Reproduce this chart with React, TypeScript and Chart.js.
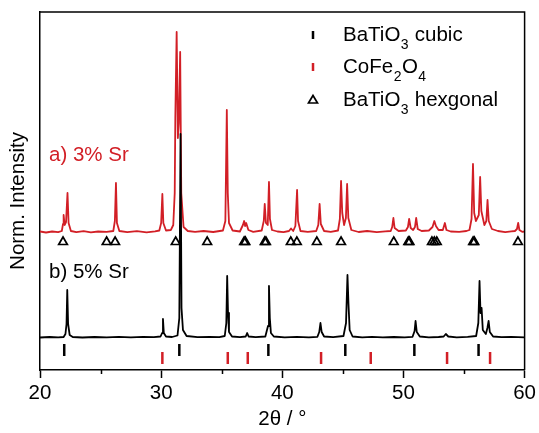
import React, { useEffect, useRef } from "react";
import { Chart, registerables } from "chart.js";

Chart.register(...registerables);

// ---- data -------------------------------------------------------------

// 2θ range and axis ticks
const xMin = 20;
const xMax = 60;
const majorTicks = [20, 30, 40, 50, 60];
const minorTicks = [25, 35, 45, 55];

// Diffractogram of the 3% Sr sample: [2θ, intensity above its own baseline]
const sr3Pattern: [number, number][] = [
  [20, 1.5], [20.5, 0.5], [21, 1.5], [21.5, 0.8], [21.8, 2], [21.9, 9], [21.95, 18], [22.03, 8], [22.15, 11], [22.27, 40], [22.36, 10], [22.55, 2],
  [23, 0.8], [23.6, 1.8], [24.2, 0.6], [24.8, 1.5], [25.5, 1.2], [26.05, 2], [26.18, 12], [26.27, 50], [26.35, 10], [26.55, 2],
  [27.2, 0.8], [28, 1.8], [28.8, 0.7], [29.5, 1.6], [29.85, 2.5], [30.0, 10], [30.1, 39], [30.18, 10], [30.4, 2.5],
  [30.8, 3], [31.0, 8], [31.12, 40], [31.17, 115], [31.28, 201], [31.38, 95], [31.46, 110], [31.57, 181], [31.66, 40], [31.85, 6], [32.2, 2],
  [32.8, 1.2], [33.5, 2], [34.3, 1], [35.1, 2.5], [35.3, 12], [35.42, 123], [35.5, 40], [35.6, 10], [35.9, 2.5],
  [36.5, 1.5], [36.75, 8], [36.85, 12], [36.93, 7], [37.02, 10], [37.2, 3], [37.6, 1.2],
  [38.3, 2.5], [38.47, 12], [38.55, 29], [38.65, 10], [38.8, 8], [38.9, 51], [38.98, 14], [39.15, 3], [39.6, 1.5],
  [40.1, 0.8], [40.55, 2], [40.72, 4.5], [40.9, 2], [41.08, 7], [41.22, 43], [41.3, 12], [41.5, 2],
  [42.1, 1.2], [42.8, 2], [42.97, 8], [43.08, 29], [43.18, 9], [43.45, 2],
  [44.0, 1.2], [44.6, 2.5], [44.75, 14], [44.85, 52], [44.95, 20], [45.1, 8], [45.25, 15], [45.35, 49], [45.45, 15], [45.7, 3],
  [46.3, 1], [47, 2], [47.8, 0.8], [48.5, 1.6], [48.95, 2], [49.07, 6], [49.17, 15], [49.27, 5], [49.6, 2],
  [50.2, 2.5], [50.37, 6], [50.47, 14], [50.6, 5], [50.8, 3], [50.95, 6], [51.05, 15], [51.18, 4], [51.5, 2],
  [52.1, 2.5], [52.4, 6], [52.55, 12], [52.68, 7], [52.9, 3], [53.25, 3], [53.42, 10], [53.55, 3], [53.9, 1.5],
  [54.6, 1.2], [55.2, 2], [55.45, 3], [55.62, 14], [55.74, 69], [55.84, 20], [55.98, 12], [56.22, 18], [56.33, 56], [56.43, 22], [56.68, 8], [56.84, 12], [56.94, 33], [57.04, 12], [57.3, 4], [57.8, 2],
  [58.4, 0.8], [58.9, 1.6], [59.2, 2], [59.37, 4], [59.47, 10], [59.57, 3], [59.8, 1.2], [60, 1.5],
];

// Diffractogram of the 5% Sr sample
const sr5Pattern: [number, number][] = [
  [20, 0.5], [20.8, 1], [21.5, 0.6], [21.95, 1], [22.1, 4], [22.19, 14], [22.25, 48], [22.32, 14], [22.45, 3], [22.7, 1],
  [23.5, 0.5], [24.5, 1], [25.5, 0.6], [26.5, 1.1], [27.5, 0.7], [28.5, 1.2], [29.4, 0.8], [29.95, 1.5], [30.08, 5], [30.15, 19], [30.22, 5], [30.4, 1.5],
  [30.9, 1], [31.35, 2.5], [31.5, 20], [31.6, 204], [31.68, 30], [31.8, 8], [32.1, 2],
  [33, 0.8], [34, 1.2], [34.8, 0.8], [35.25, 2], [35.38, 15], [35.45, 62], [35.52, 25], [35.6, 6], [35.85, 1.5],
  [36.5, 0.8], [36.98, 1.5], [37.1, 5], [37.22, 1.5], [37.8, 0.8],
  [38.6, 1.5], [38.82, 12], [38.9, 52], [38.97, 20], [39.06, 5], [39.3, 1.5],
  [40.2, 0.6], [41.2, 1.1], [42.2, 0.7], [42.9, 1.2], [43.05, 6], [43.15, 15], [43.25, 6], [43.45, 1.5],
  [44.2, 0.8], [45.05, 2], [45.26, 15], [45.38, 63], [45.46, 35], [45.56, 8], [45.8, 1.5],
  [46.6, 0.7], [47.4, 1.1], [48.3, 0.6], [49.2, 1], [50.1, 0.7], [50.75, 1.2], [50.92, 7], [51.0, 17], [51.1, 6], [51.35, 1.5],
  [52.1, 0.7], [52.9, 1], [53.32, 1.5], [53.5, 4], [53.7, 1.5], [54.4, 0.7], [55.3, 1.1],
  [56.0, 2], [56.18, 15], [56.28, 57], [56.36, 25], [56.45, 30], [56.55, 8], [56.8, 4], [56.93, 10], [57.03, 17], [57.13, 6], [57.4, 1.5],
  [58.1, 0.8], [58.9, 1.1], [60, 0.6],
];

// Reference reflection positions (2θ)
const cubicRefs = [22.0, 31.5, 38.85, 45.2, 50.9, 56.2];
const spinelRefs = [30.1, 35.5, 37.15, 43.2, 47.3, 53.6, 57.15];
const hexRefs = [
  21.9, 25.5, 26.2, 31.2, 33.8, 36.85, 36.95, 38.55, 38.65, 40.7, 41.2, 42.85,
  44.85, 49.2, 50.4, 50.5, 52.35, 52.55, 52.75, 55.75, 55.85, 59.45,
];

// Text
const yTitle = "Norm. Intensity";
const xTitle = "2θ / °";
const sampleLabels = ["a) 3% Sr", "b) 5% Sr"];
type Part = { t: string; sub?: boolean };
const legendTexts: Part[][] = [
  [{ t: "BaTiO" }, { t: "3", sub: true }, { t: " cubic" }],
  [{ t: "CoFe" }, { t: "2", sub: true }, { t: "O" }, { t: "4", sub: true }],
  [{ t: "BaTiO" }, { t: "3", sub: true }, { t: " hexgonal" }],
];

// ---- layout / style ----------------------------------------------------

const RED = "#d21f26";
const FONT = '"Liberation Sans", Arial, Helvetica, sans-serif';
const FS = 20.5;
const yMax = 358;
const sr3Offset = 137;
const sr5Offset = 32;
const hexRow = 128;
const cubicRow = 20;
const spinelRow = 12;

const toPoints = (p: [number, number][], off: number) => p.map(([x, y]) => ({ x, y: y + off }));
const rowPoints = (refs: number[], y: number) => refs.map((x) => ({ x, y }));

function drawRich(ctx: CanvasRenderingContext2D, parts: Part[], x: number, y: number) {
  let cx = x;
  for (const p of parts) {
    if (p.sub) {
      ctx.font = `14px ${FONT}`;
      ctx.fillText(p.t, cx + 0.5, y + 10);
      cx += ctx.measureText(p.t).width + 1;
    } else {
      ctx.font = `${FS}px ${FONT}`;
      ctx.fillText(p.t, cx, y);
      cx += ctx.measureText(p.t).width;
    }
  }
}

const overlayPlugin = {
  id: "xrdOverlay",
  afterDraw(chart: any) {
    const { ctx, chartArea: a, scales } = chart;
    ctx.save();
    // top and right frame lines
    ctx.strokeStyle = "#000";
    ctx.lineWidth = 1.5;
    ctx.beginPath();
    ctx.moveTo(a.left, a.top);
    ctx.lineTo(a.right, a.top);
    ctx.lineTo(a.right, a.bottom);
    // short minor ticks
    for (const v of minorTicks) {
      const px = Math.round(scales.x.getPixelForValue(v)) + 0.5;
      ctx.moveTo(px, a.bottom);
      ctx.lineTo(px, a.bottom + 4);
    }
    ctx.stroke();

    // y axis title
    ctx.fillStyle = "#000";
    ctx.font = `${FS}px ${FONT}`;
    ctx.textAlign = "center";
    ctx.textBaseline = "middle";
    ctx.save();
    ctx.translate(18, 201);
    ctx.rotate(-Math.PI / 2);
    ctx.fillText(yTitle, 0, 0);
    ctx.restore();

    // sample labels
    ctx.textAlign = "left";
    ctx.fillStyle = RED;
    ctx.fillText(sampleLabels[0], 49, 155);
    ctx.fillStyle = "#000";
    ctx.fillText(sampleLabels[1], 49, 272);

    // legend
    const rows = [35, 67, 100];
    const mx = 313;
    ctx.lineWidth = 2.5;
    ctx.strokeStyle = "#000";
    ctx.beginPath();
    ctx.moveTo(mx, rows[0] - 4);
    ctx.lineTo(mx, rows[0] + 4);
    ctx.stroke();
    ctx.strokeStyle = RED;
    ctx.beginPath();
    ctx.moveTo(mx, rows[1] - 4);
    ctx.lineTo(mx, rows[1] + 4);
    ctx.stroke();
    ctx.strokeStyle = "#000";
    ctx.lineWidth = 1.7;
    ctx.beginPath();
    ctx.moveTo(mx, rows[2] - 4.5);
    ctx.lineTo(mx + 4.5, rows[2] + 3);
    ctx.lineTo(mx - 4.5, rows[2] + 3);
    ctx.closePath();
    ctx.stroke();
    ctx.fillStyle = "#000";
    legendTexts.forEach((parts, i) => drawRich(ctx, parts, 343, rows[i]));
    ctx.restore();
  },
};

export default function App() {
  const ref = useRef<HTMLCanvasElement | null>(null);

  useEffect(() => {
    if (!ref.current) return;
    const chart = new Chart(ref.current, {
      type: "scatter",
      data: {
        datasets: [
          {
            label: "5% Sr",
            data: toPoints(sr5Pattern, sr5Offset),
            showLine: true,
            borderColor: "#000",
            borderWidth: 1.8,
            borderJoinStyle: "round",
            pointRadius: 0,
            tension: 0,
          },
          {
            label: "3% Sr",
            data: toPoints(sr3Pattern, sr3Offset),
            showLine: true,
            borderColor: RED,
            borderWidth: 1.8,
            borderJoinStyle: "round",
            pointRadius: 0,
            tension: 0,
          },
          {
            label: "BaTiO3 hexgonal",
            data: rowPoints(hexRefs, hexRow),
            pointStyle: "triangle",
            pointRadius: 5,
            borderWidth: 1.7,
            borderColor: "#000",
            backgroundColor: "rgba(0,0,0,0)",
          },
          {
            label: "BaTiO3 cubic",
            data: rowPoints(cubicRefs, cubicRow),
            pointStyle: "line",
            rotation: 90,
            pointRadius: 6,
            borderWidth: 2.5,
            borderColor: "#000",
          },
          {
            label: "CoFe2O4",
            data: rowPoints(spinelRefs, spinelRow),
            pointStyle: "line",
            rotation: 90,
            pointRadius: 6,
            borderWidth: 2.5,
            borderColor: RED,
          },
        ],
      },
      options: {
        animation: false,
        responsive: true,
        maintainAspectRatio: false,
        layout: { padding: { top: 12, right: 12.5, left: 0, bottom: 0 } },
        plugins: { legend: { display: false }, tooltip: { enabled: false } },
        scales: {
          x: {
            type: "linear",
            min: xMin,
            max: xMax,
            afterBuildTicks: (s: any) => {
              s.ticks = majorTicks.map((v) => ({ value: v }));
            },
            afterFit: (s: any) => {
              s.height = 63;
            },
            ticks: { color: "#000", font: { family: FONT, size: FS }, padding: 3, maxRotation: 0 },
            grid: { display: true, drawOnChartArea: false, tickLength: 8, tickWidth: 1.5, tickColor: "#000" },
            border: { display: true, color: "#000", width: 1.5 },
            title: {
              display: true,
              text: xTitle,
              color: "#000",
              font: { family: FONT, size: FS },
              padding: { top: 0, bottom: 1 },
            },
          },
          y: {
            type: "linear",
            min: 0,
            max: yMax,
            afterFit: (s: any) => {
              s.width = 40;
            },
            ticks: { display: false },
            grid: { display: false },
            border: { display: true, color: "#000", width: 1.5 },
          },
        },
      },
      plugins: [overlayPlugin],
    });
    return () => chart.destroy();
  }, []);

  return (
    <div style={{ position: "absolute", left: 0, top: 0, width: 539, height: 433, background: "#fff" }}>
      <canvas ref={ref} />
    </div>
  );
}
